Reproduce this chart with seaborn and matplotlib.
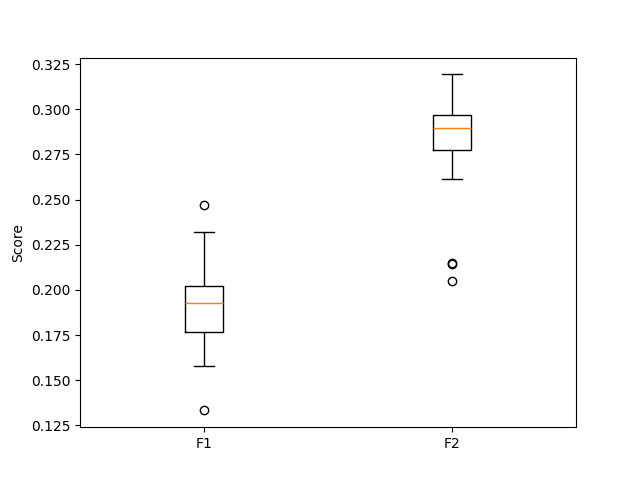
import pandas as pd
from matplotlib import pyplot as plt
import seaborn as sns

# scores
f1_scores = [0.1333, 0.1579, 0.1680, 0.1740, 0.1769, 0.1820, 0.1860, 0.1900, 0.1930,
             0.1960, 0.1990, 0.2010, 0.2024, 0.2100, 0.2200, 0.2323, 0.2469]
f2_scores = [0.2050, 0.2146, 0.2150, 0.2613, 0.2777, 0.2820, 0.2850, 0.2880, 0.2899,
             0.2920, 0.2940, 0.2955, 0.2967, 0.3010, 0.3060, 0.3120, 0.3193]
labels = ["F1", "F2"]

df = pd.DataFrame({
    "feature": [labels[0]] * len(f1_scores) + [labels[1]] * len(f2_scores),
    "Score": f1_scores + f2_scores,
})

fig, ax = plt.subplots(figsize=(6.4, 4.8), dpi=100)
sns.boxplot(data=df, x="feature", y="Score", ax=ax, width=0.155, fill=False,
            color="black", linewidth=1, whis=1.5,
            medianprops={"color": "#ff7f0e"},
            flierprops={"marker": "o", "markerfacecolor": "none",
                        "markeredgecolor": "black", "markersize": 6})
ax.set_xlabel("")
ax.set_xlim(-0.5, 1.5)
ax.set_yticks([0.125, 0.150, 0.175, 0.200, 0.225, 0.250, 0.275, 0.300, 0.325])
ax.set_yticklabels(["0.125", "0.150", "0.175", "0.200", "0.225",
                    "0.250", "0.275", "0.300", "0.325"])
ax.set_position([0.125, 0.11, 0.775, 0.77])
fig.savefig("out.png")
